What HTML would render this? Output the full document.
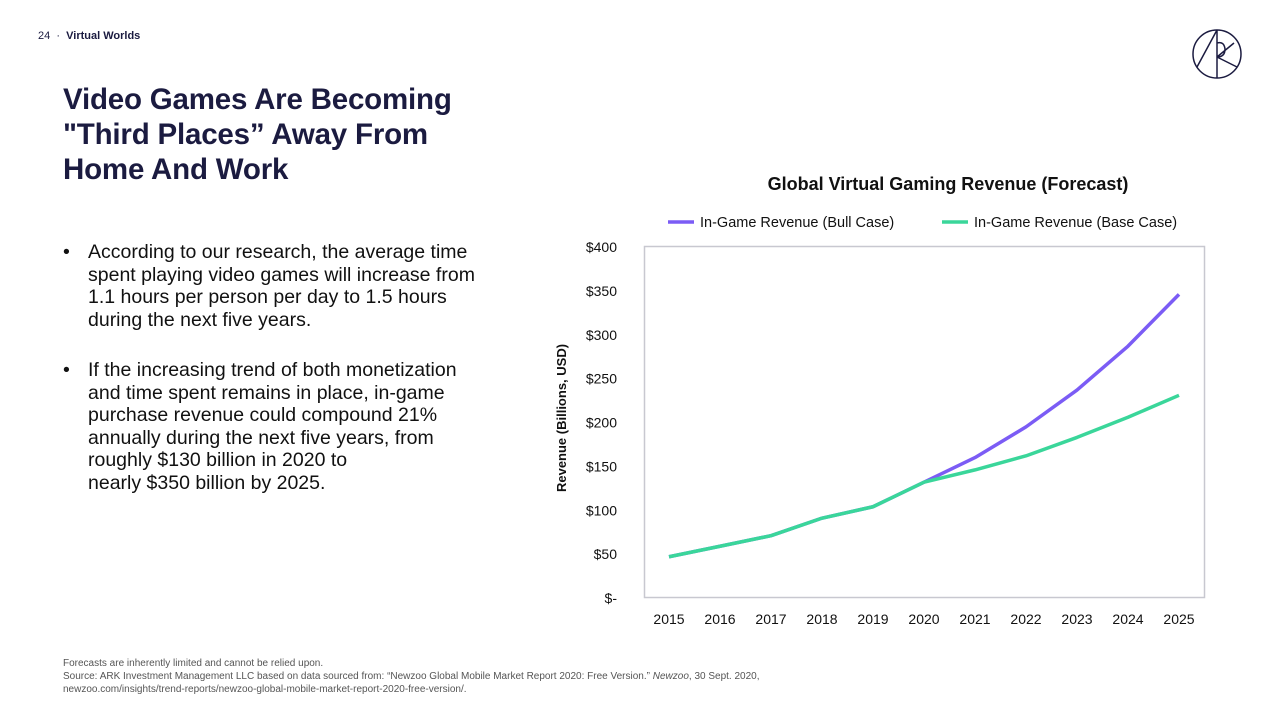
<!DOCTYPE html>
<html><head><meta charset="utf-8">
<style>
body{margin:0;width:1280px;height:720px;background:#fff;font-family:"Liberation Sans",sans-serif;color:#1a1a3a;position:relative;overflow:hidden}
.abs{position:absolute}
#title{left:63px;top:82px;font-size:29.5px;font-weight:bold;line-height:35px;color:#1b1b40;letter-spacing:-0.2px}
.bul{left:63px;font-size:19.5px;line-height:22.5px;color:#111;width:480px;white-space:nowrap}
.bul span.d{position:absolute;left:0}
.bul div{margin-left:25px}
#foot{left:63px;top:657px;font-size:10px;line-height:13px;color:#555}
</style></head><body>
<div class="abs" style="left:38px;top:30px;font-size:11px;color:#1b1b40">24 &nbsp;·&nbsp; <b>Virtual Worlds</b></div>
<svg class="abs" style="left:1190px;top:27px" width="54" height="54" viewBox="0 0 54 54">
<circle cx="27" cy="27" r="24" fill="none" stroke="#1b1b40" stroke-width="1.5"/>
<path d="M27 3 L27 51 M27 3 L7 40 M27 16 Q34 14 35 22 Q35 30 27 30 M27 30 L47 40 M27 30 L44 16" fill="none" stroke="#1b1b40" stroke-width="1.5"/>
</svg>
<div id="title" class="abs">Video Games Are Becoming<br>"Third Places” Away From<br>Home And Work</div>
<div class="abs bul" style="top:241px"><span class="d">•</span><div>According to our research, the average time<br>spent playing video games will increase from<br>1.1 hours per person per day to 1.5 hours<br>during the next five years.</div></div>
<div class="abs bul" style="top:359px"><span class="d">•</span><div>If the increasing trend of both monetization<br>and time spent remains in place, in-game<br>purchase revenue could compound 21%<br>annually during the next five years, from<br>roughly $130 billion in 2020 to<br>nearly $350 billion by 2025.</div></div>
<div id="foot" class="abs">Forecasts are inherently limited and cannot be relied upon.<br>Source: ARK Investment Management LLC based on data sourced from: “Newzoo Global Mobile Market Report 2020: Free Version.” <i>Newzoo</i>, 30 Sept. 2020,<br>newzoo.com/insights/trend-reports/newzoo-global-mobile-market-report-2020-free-version/.</div>
<svg id="chart" class="abs" style="left:0;top:0" width="1280" height="720"></svg>
<script>
const years=["2015","2016","2017","2018","2019","2020","2021","2022","2023","2024","2025"];
const bull=[47,59,71,91,104,132,160,195,237,287,346];
const base=[47,59,71,91,104,132,146,162,183,206,231];
const yTicks=[0,50,100,150,200,250,300,350,400];
const yLabels=["$-","$50","$100","$150","$200","$250","$300","$350","$400"];
const svg=document.getElementById('chart');
const NS='http://www.w3.org/2000/svg';
const x=i=>669+i*51;
const y=v=>598-v*0.8775;
function mk(t,a,txt){const e=document.createElementNS(NS,t);for(const k in a)e.setAttribute(k,a[k]);if(txt!=null)e.textContent=txt;svg.appendChild(e);return e;}
const f='"Liberation Sans",sans-serif';
let t=mk('text',{x:948,y:190,'text-anchor':'middle','font-size':18,'font-weight':'bold','font-family':f,fill:'#111'},'Global Virtual Gaming Revenue (Forecast)');


let b=mk('rect',{x:644.5,y:246.5,width:560,height:351,fill:'none',stroke:'#c8c8d0','stroke-width':1.5});


yTicks.forEach((v,i)=>{const e=mk('text',{x:617,y:y(v)+5,'text-anchor':'end','font-size':14,'font-family':f,fill:'#111'},yLabels[i]);

});
years.forEach((yr,i)=>{const e=mk('text',{x:x(i),y:624,'text-anchor':'middle','font-size':14,'font-family':f,fill:'#111'},yr);

});
let yt=mk('text',{x:0,y:0,transform:'translate(566,418) rotate(-90)','text-anchor':'middle','font-size':13,'font-weight':'bold','font-family':f,fill:'#111'},'Revenue (Billions, USD)');


function line(d,c,n){const p=mk('polyline',{points:d.map((v,i)=>x(i)+','+y(v)).join(' '),fill:'none',stroke:c,'stroke-width':3.5,'stroke-linejoin':'round'});

}
line(bull,'#7b5cf5','bull-case-line');
line(base,'#3ad69a','base-case-line');
[[668,'#7b5cf5','In-Game Revenue (Bull Case)'],[942,'#3ad69a','In-Game Revenue (Base Case)']].forEach(([lx,c,s])=>{
const g=mk('line',{x1:lx,y1:222,x2:lx+26,y2:222,stroke:c,'stroke-width':3.5});


const e=mk('text',{x:lx+32,y:227,'font-size':14.5,'font-family':f,fill:'#111'},s);

});
</script>
</body></html>
